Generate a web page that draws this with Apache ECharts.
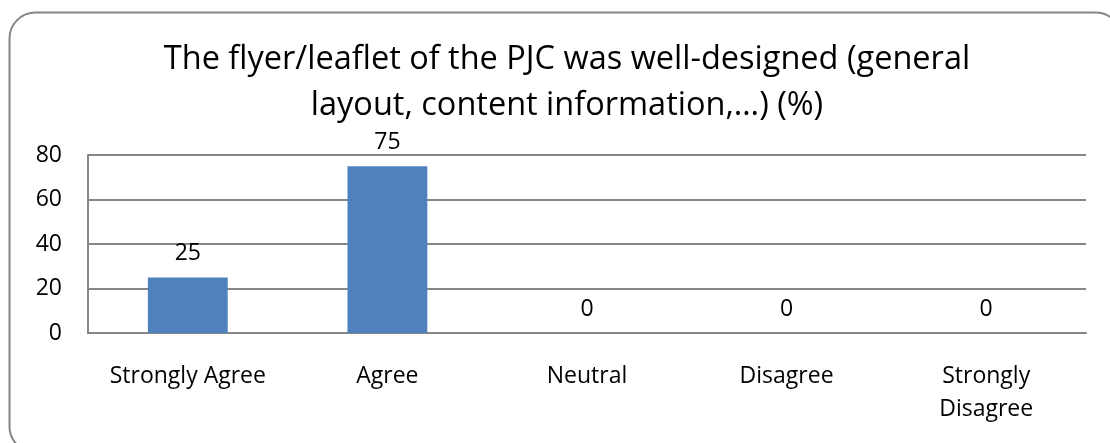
<!DOCTYPE html>
<html><head><meta charset="utf-8">
<script src="https://cdn.jsdelivr.net/npm/echarts@6/dist/echarts.min.js"></script>
<style>html,body{margin:0;padding:0;background:#fff}#c{width:1110px;height:443px}</style>
</head><body><div id="c"></div>
<script>
const titleText = 'The flyer/leaflet of the PJC was well-designed (general\nlayout, content information,…) (%)';
const categories = ['Strongly Agree', 'Agree', 'Neutral', 'Disagree', 'Strongly\nDisagree'];
const values = [25, 75, 0, 0, 0];
const yTicks = {min: 0, max: 80, interval: 20};
const FONT = 'Open Sans';
const chart = echarts.init(document.getElementById('c'));
chart.setOption({
  animation: false,
  backgroundColor: '#fff',
  graphic: [{
    type: 'rect', left: 7, top: 10, z: -10,
    shape: {width: 1112, height: 440, r: 26},
    style: {fill: 'none', stroke: '#868686', lineWidth: 2}
  }],
  title: {
    text: titleText, left: 562, top: 32, textAlign: 'center',
    textStyle: {fontFamily: FONT, fontSize: 32.5, fontWeight: 'normal', color: '#000', lineHeight: 46}
  },
  grid: {left: 88, right: 24, top: 155, bottom: 110, containLabel: false},
  xAxis: {
    type: 'category', data: categories,
    axisLine: {lineStyle: {color: '#868686', width: 2}},
    axisTick: {show: false},
    axisLabel: {fontFamily: FONT, fontSize: 23, color: '#000', margin: 27, lineHeight: 33, interval: 0}
  },
  yAxis: {
    type: 'value', min: yTicks.min, max: yTicks.max, interval: yTicks.interval,
    axisLine: {show: true, lineStyle: {color: '#868686', width: 2}},
    axisTick: {show: false},
    splitLine: {lineStyle: {color: '#868686', width: 2}},
    axisLabel: {fontFamily: FONT, fontSize: 23, color: '#000', margin: 26}
  },
  series: [{
    type: 'bar', data: values, barWidth: '40%',
    itemStyle: {color: '#4F81BD'},
    label: {show: true, position: 'top', distance: 12, fontFamily: FONT, fontSize: 23, color: '#000'}
  }]
});
</script></body></html>
